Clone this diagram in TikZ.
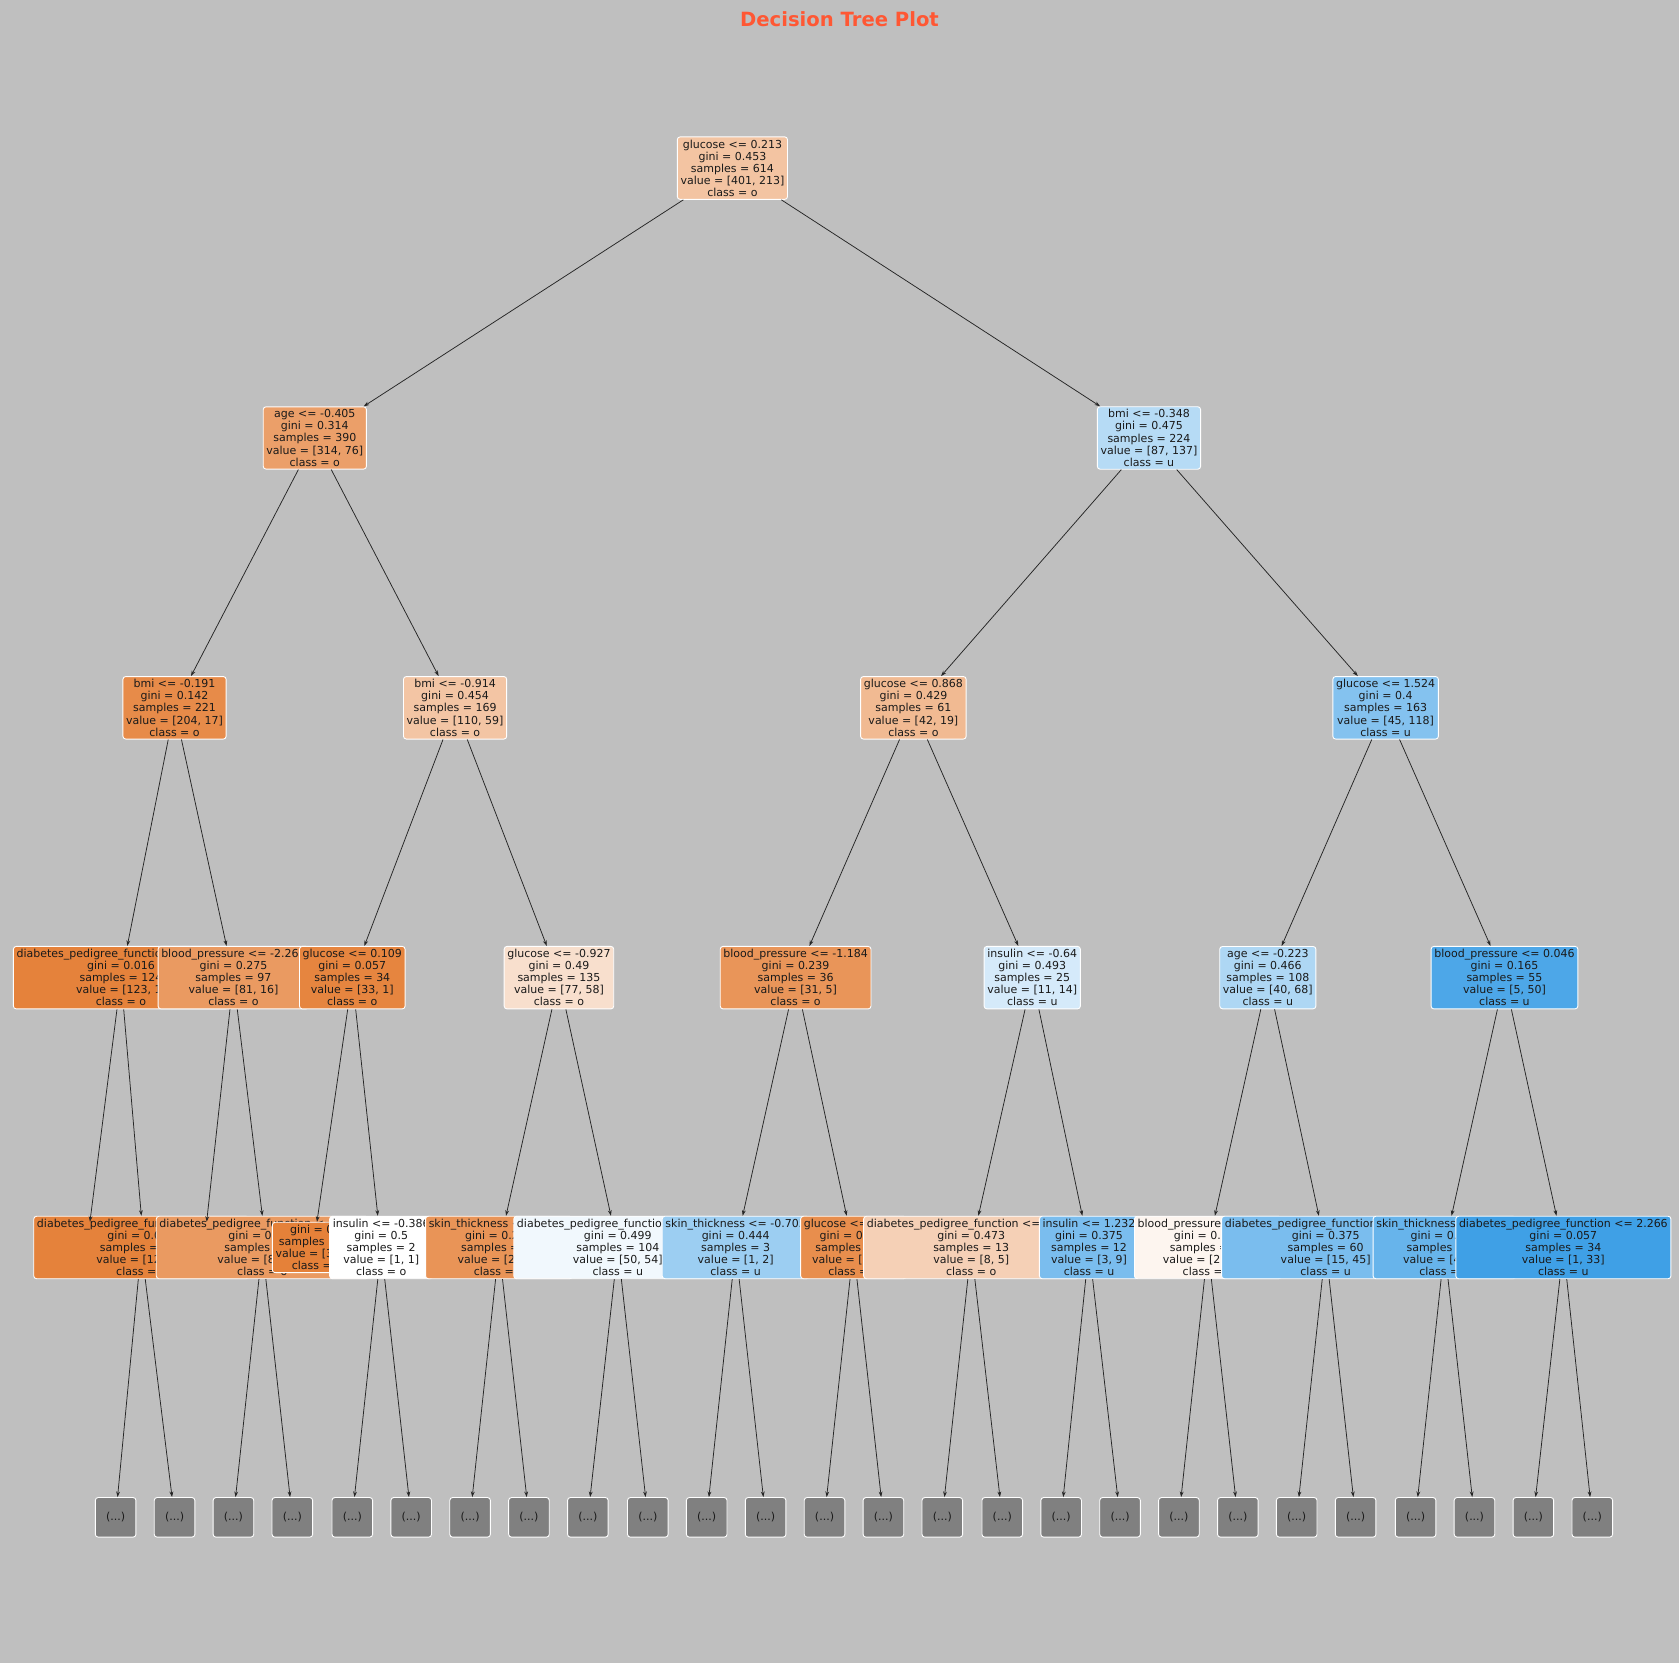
\documentclass[tikz,border=0pt]{standalone}
\usepackage{fontspec}
\setmainfont{DejaVu Sans}
\usetikzlibrary{arrows.meta}
\definecolor{O}{HTML}{E58139}
\definecolor{U}{HTML}{399DE5}
\definecolor{bg}{HTML}{BFBFBF}
\definecolor{ttl}{HTML}{FF5733}
\definecolor{txt}{HTML}{1A1A1A}
\tikzset{
 tn/.style={draw=white, rounded corners=1.4pt, align=center, inner xsep=1.6pt, inner ysep=1.4pt,
   font=\fontsize{5.5}{6.05}\selectfont, text=txt, line width=0.45pt},
 dots/.style={tn, fill=black!50, minimum width=20.3pt, minimum height=19.8pt},
 ar/.style={-{Stealth[length=2.8pt,width=1.9pt]}, draw=black!85, line width=0.38pt}
}
\begin{document}
\begin{tikzpicture}[x=0.5355pt,y=-0.5355pt]
\fill[bg] (0,0) rectangle (1568,1553);
\useasboundingbox (0,0) rectangle (1568,1553);
\node[font=\fontsize{9.8}{11}\selectfont\bfseries, text=ttl] (title) at (784,18) {Decision Tree Plot};
% level 0-1
\node[tn,fill=O!47] (r) at (684,157) {glucose <= 0.213\\gini = 0.453\\samples = 614\\value = [401, 213]\\class = o};
\node[tn,fill=O!76] (a1) at (294,409) {age <= -0.405\\gini = 0.314\\samples = 390\\value = [314, 76]\\class = o};
\node[tn,fill=U!37] (b1) at (1073,409) {bmi <= -0.348\\gini = 0.475\\samples = 224\\value = [87, 137]\\class = u};
% level 2
\node[tn,fill=O!92] (c1) at (163,661) {bmi <= -0.191\\gini = 0.142\\samples = 221\\value = [204, 17]\\class = o};
\node[tn,fill=O!46] (c2) at (425,661) {bmi <= -0.914\\gini = 0.454\\samples = 169\\value = [110, 59]\\class = o};
\node[tn,fill=O!55] (c3) at (853,661) {glucose <= 0.868\\gini = 0.429\\samples = 61\\value = [42, 19]\\class = o};
\node[tn,fill=U!62] (c4) at (1294,661) {glucose <= 1.524\\gini = 0.4\\samples = 163\\value = [45, 118]\\class = u};
% level 3
\node[tn,fill=O!99] (d1) at (113,913) {diabetes\_pedigree\_function <= 1.968\\gini = 0.016\\samples = 124\\value = [123, 1]\\class = o};
\node[tn,fill=O!80] (d2) at (218,913) {blood\_pressure <= -2.266\\gini = 0.275\\samples = 97\\value = [81, 16]\\class = o};
\node[tn,fill=O!97] (d3) at (329,913) {glucose <= 0.109\\gini = 0.057\\samples = 34\\value = [33, 1]\\class = o};
\node[tn,fill=O!25] (d4) at (522,913) {glucose <= -0.927\\gini = 0.49\\samples = 135\\value = [77, 58]\\class = o};
\node[tn,fill=O!84] (d5) at (743,913) {blood\_pressure <= -1.184\\gini = 0.239\\samples = 36\\value = [31, 5]\\class = o};
\node[tn,fill=U!21] (d6) at (964,913) {insulin <= -0.64\\gini = 0.493\\samples = 25\\value = [11, 14]\\class = u};
\node[tn,fill=U!41] (d7) at (1184,913) {age <= -0.223\\gini = 0.466\\samples = 108\\value = [40, 68]\\class = u};
\node[tn,fill=U!90] (d8) at (1405,913) {blood\_pressure <= 0.046\\gini = 0.165\\samples = 55\\value = [5, 50]\\class = u};
% level 4
\node[tn,fill=O] (e1) at (84,1165) {gini = 0.0\\samples = 1\\value = [1, 0]\\class = o};
\node[tn,fill=O!99] (e2) at (132,1165) {diabetes\_pedigree\_function <= 0.587\\gini = 0.016\\samples = 123\\value = [122, 1]\\class = o};
\node[tn,fill=O] (e3) at (193,1165) {gini = 0.0\\samples = 1\\value = [1, 0]\\class = o};
\node[tn,fill=O!80] (e4) at (245,1165) {diabetes\_pedigree\_function <= -0.58\\gini = 0.278\\samples = 96\\value = [80, 16]\\class = o};
\node[tn,fill=O] (e5) at (296,1165) {gini = 0.0\\samples = 32\\value = [32, 0]\\class = o};
\node[tn,fill=white] (e6) at (356,1165) {insulin <= -0.386\\gini = 0.5\\samples = 2\\value = [1, 1]\\class = o};
\node[tn,fill=O!85] (e7) at (466,1165) {skin\_thickness <= -0.518\\gini = 0.225\\samples = 31\\value = [27, 4]\\class = o};
\node[tn,fill=U!7] (e8) at (577,1165) {diabetes\_pedigree\_function <= 0.19\\gini = 0.499\\samples = 104\\value = [50, 54]\\class = u};
\node[tn,fill=U!50] (e9) at (687,1165) {skin\_thickness <= -0.705\\gini = 0.444\\samples = 3\\value = [1, 2]\\class = u};
\node[tn,fill=O!90] (e10) at (797,1165) {glucose <= 0.592\\gini = 0.165\\samples = 33\\value = [30, 3]\\class = o};
\node[tn,fill=O!37] (e11) at (907,1165) {diabetes\_pedigree\_function <= 0.042\\gini = 0.473\\samples = 13\\value = [8, 5]\\class = o};
\node[tn,fill=U!67] (e12) at (1017,1165) {insulin <= 1.232\\gini = 0.375\\samples = 12\\value = [3, 9]\\class = u};
\node[tn,fill=O!8] (e13) at (1128,1165) {blood\_pressure <= 0.187\\gini = 0.499\\samples = 48\\value = [25, 23]\\class = o};
\node[tn,fill=U!67] (e14) at (1238,1165) {diabetes\_pedigree\_function <= 0.38\\gini = 0.375\\samples = 60\\value = [15, 45]\\class = u};
\node[tn,fill=U!77] (e15) at (1349,1165) {skin\_thickness <= 0.734\\gini = 0.308\\samples = 21\\value = [4, 17]\\class = u};
\node[tn,fill=U!97] (e16) at (1460,1165) {diabetes\_pedigree\_function <= 2.266\\gini = 0.057\\samples = 34\\value = [1, 33]\\class = u};
% level 5
\foreach \i/\x in {1/108,2/163,3/218,4/273,5/329,6/384,7/439,8/494,9/549,10/605,11/660,12/715,13/770,14/825,15/880,16/936,17/991,18/1046,19/1101,20/1156,21/1211,22/1266,23/1322,24/1377,25/1432,26/1487}
  \node[dots] (f\i) at (\x,1417) {(...)};
% edges
\draw[ar] (r) -- (a1); \draw[ar] (r) -- (b1);
\draw[ar] (a1) -- (c1); \draw[ar] (a1) -- (c2);
\draw[ar] (b1) -- (c3); \draw[ar] (b1) -- (c4);
\draw[ar] (c1) -- (d1); \draw[ar] (c1) -- (d2);
\draw[ar] (c2) -- (d3); \draw[ar] (c2) -- (d4);
\draw[ar] (c3) -- (d5); \draw[ar] (c3) -- (d6);
\draw[ar] (c4) -- (d7); \draw[ar] (c4) -- (d8);
\draw[ar] (d1) -- (e1.north); \draw[ar] (d1) -- (e2.north);
\draw[ar] (d2) -- (e3.north); \draw[ar] (d2) -- (e4.north);
\draw[ar] (d3) -- (e5.north); \draw[ar] (d3) -- (e6);
\draw[ar] (d4) -- (e7); \draw[ar] (d4) -- (e8);
\draw[ar] (d5) -- (e9); \draw[ar] (d5) -- (e10);
\draw[ar] (d6) -- (e11); \draw[ar] (d6) -- (e12);
\draw[ar] (d7) -- (e13); \draw[ar] (d7) -- (e14);
\draw[ar] (d8) -- (e15); \draw[ar] (d8) -- (e16);
\foreach \e/\l/\r in {e2/1/2,e4/3/4,e6/5/6,e7/7/8,e8/9/10,e9/11/12,e10/13/14,e11/15/16,e12/17/18,e13/19/20,e14/21/22,e15/23/24,e16/25/26}{
  \draw[ar] (\e) -- (f\l); \draw[ar] (\e) -- (f\r);}
\end{tikzpicture}
\end{document}
